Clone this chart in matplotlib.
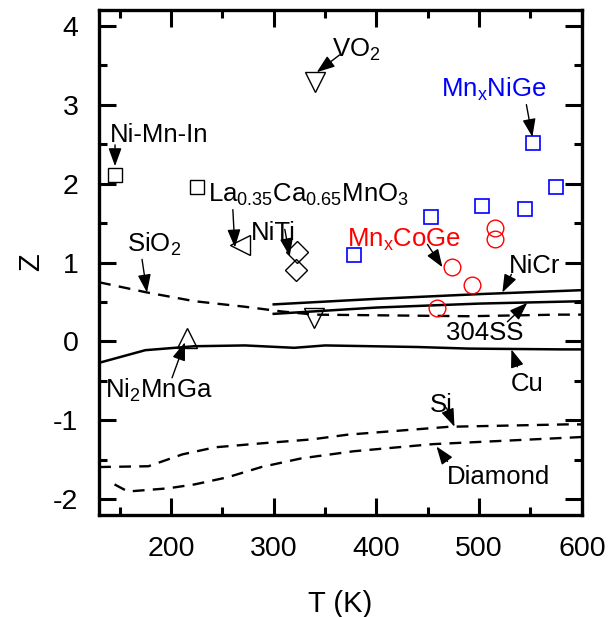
import matplotlib
matplotlib.use('Agg')
import matplotlib.pyplot as plt

plt.rcParams['font.family'] = ['Liberation Sans', 'DejaVu Sans']
plt.rcParams['mathtext.default'] = 'regular'
plt.rcParams['axes.unicode_minus'] = False

# reference lines (T in K, Z)
nicr_T = [300, 400, 500, 600]
nicr_Z = [0.47, 0.54, 0.60, 0.65]
ss304_T = [300, 400, 500, 600]
ss304_Z = [0.35, 0.43, 0.48, 0.51]
sio2_T = [130, 177, 223, 272, 308, 340, 490, 577, 600]
sio2_Z = [0.75, 0.62, 0.51, 0.44, 0.38, 0.34, 0.32, 0.34, 0.34]
cu_T = [130, 175, 223, 272, 320, 350, 440, 490, 580, 600]
cu_Z = [-0.27, -0.11, -0.06, -0.05, -0.08, -0.05, -0.07, -0.09, -0.10, -0.10]
si_T = [130, 178, 211, 243, 288, 337, 372, 471, 585, 600]
si_Z = [-1.59, -1.58, -1.43, -1.34, -1.29, -1.24, -1.18, -1.08, -1.05, -1.05]
dia_T = [145, 158, 197, 223, 255, 288, 327, 378, 455, 536, 600]
dia_Z = [-1.81, -1.90, -1.86, -1.81, -1.72, -1.59, -1.48, -1.39, -1.30, -1.25, -1.21]

# single materials
nimnin = (145.5, 2.11)
lacamno = (225, 1.96)
vo2 = (340, 3.29)
left_tri = (267, 1.22)
niti_T = [323, 322]
niti_Z = [1.13, 0.91]
ni2mnga = (215.5, 0.05)
down_tri = (339, 0.30)

# this work
mnnige_T = [378, 453, 503, 545, 552, 575]
mnnige_Z = [1.10, 1.58, 1.71, 1.68, 2.51, 1.96]
mncoge_T = [458.5, 474, 493, 515, 515]
mncoge_Z = [0.42, 0.94, 0.72, 1.44, 1.30]

fig = plt.figure(figsize=(6.08, 6.17), dpi=100)
ax = fig.add_axes([0.163, 0.165, 0.794, 0.819])

lw = 1.8
dash = (0, (5, 3.5))
ax.plot(nicr_T, nicr_Z, color='k', lw=lw)
ax.plot(ss304_T, ss304_Z, color='k', lw=lw)
ax.plot(cu_T, cu_Z, color='k', lw=lw)
ax.plot(sio2_T, sio2_Z, color='k', lw=1.7, ls=dash)
ax.plot(si_T, si_Z, color='k', lw=1.7, ls=dash)
ax.plot(dia_T, dia_Z, color='k', lw=1.7, ls=dash)

mk = dict(mfc='none', mec='k', mew=1.0, ls='none')
ax.plot(*nimnin, marker='s', ms=10, **mk)
ax.plot(*lacamno, marker='s', ms=10, **mk)
ax.plot(*vo2, marker='v', ms=14, **mk)
ax.plot(*left_tri, marker='<', ms=14, **mk)
ax.plot(niti_T, niti_Z, marker='D', ms=11, **mk)
ax.plot(*ni2mnga, marker='^', ms=14, **mk)
ax.plot(*down_tri, marker='v', ms=14, **mk)

ax.plot(mnnige_T, mnnige_Z, marker='s', ms=10, mfc='none', mec='#0000ff', mew=1.2, ls='none')
ax.plot(mncoge_T, mncoge_Z, marker='o', ms=12, mfc='none', mec='#ff0000', mew=1.0, ls='none')

fs = 18.5
labels = [
    ('Ni-Mn-In', 188, 2.53, 'center', 'k'),
    ('La$_{0.35}$Ca$_{0.65}$MnO$_3$', 236, 1.77, 'left', 'k'),
    ('NiTi', 299.6, 1.29, 'center', 'k'),
    ('SiO$_2$', 157, 1.13, 'left', 'k'),
    ('VO$_2$', 357, 3.61, 'left', 'k'),
    ('Mn$_x$NiGe', 463, 3.10, 'left', '#0000ff'),
    ('Mn$_x$CoGe', 371, 1.20, 'left', '#ff0000'),
    ('NiCr', 529, 0.87, 'left', 'k'),
    ('304SS', 468, 0.025, 'left', 'k'),
    ('Ni$_2$MnGa', 135.8, -0.71, 'left', 'k'),
    ('Cu', 531, -0.63, 'left', 'k'),
    ('Si', 451.7, -0.89, 'left', 'k'),
    ('Diamond', 469, -1.80, 'left', 'k'),
]
for s, x, y, ha, c in labels:
    ax.text(x, y, s, fontsize=fs, ha=ha, va='baseline', color=c)

# arrows: (tail T, tail Z, head T, head Z)
arrows = [
    (145.5, 2.49, 145.5, 2.22),
    (260.2, 1.67, 262.2, 1.19),
    (310.8, 1.42, 315.6, 1.08),
    (171.8, 1.04, 176.6, 0.62),
    (364.2, 3.63, 341.9, 3.41),
    (546.0, 3.00, 551.8, 2.59),
    (449.7, 1.23, 464.3, 0.94),
    (531.4, 0.85, 522.6, 0.62),
    (527.5, 0.25, 546.9, 0.49),
    (201.0, -0.46, 213.6, -0.01),
    (537.2, -0.32, 531.4, -0.10),
    (468.2, -0.84, 476.0, -1.08),
    (469.2, -1.52, 458.5, -1.33),
]
for x0, y0, x1, y1 in arrows:
    ax.annotate('', xy=(x1, y1), xytext=(x0, y0),
                arrowprops=dict(arrowstyle='-|>,head_length=0.55,head_width=0.2',
                                color='k', lw=1.0, mutation_scale=20,
                                shrinkA=0, shrinkB=0))

ax.set_xlim(130, 600)
ax.set_ylim(-2.2, 4.2)
ax.set_xticks([200, 300, 400, 500, 600])
ax.set_xticks([150, 250, 350, 450, 550], minor=True)
ax.set_yticks([-2, -1, 0, 1, 2, 3, 4])
ax.set_yticks([-1.5, -0.5, 0.5, 1.5, 2.5, 3.5], minor=True)
ax.tick_params(which='both', direction='in', top=True, right=True,
               labelsize=20.5, width=2.2)
ax.tick_params(axis='x', which='major', pad=15)
ax.tick_params(axis='y', which='major', pad=15)
ax.tick_params(which='major', length=12)
ax.tick_params(which='minor', length=5.5)
for sp in ax.spines.values():
    sp.set_linewidth(2.4)

ax.set_xlabel('T (K)', fontsize=21)
ax.set_ylabel('Z', fontsize=21)
ax.xaxis.set_label_coords(0.5, -0.148)
ax.yaxis.set_label_coords(-0.112, 0.5)

fig.savefig('out.png', dpi=100)
